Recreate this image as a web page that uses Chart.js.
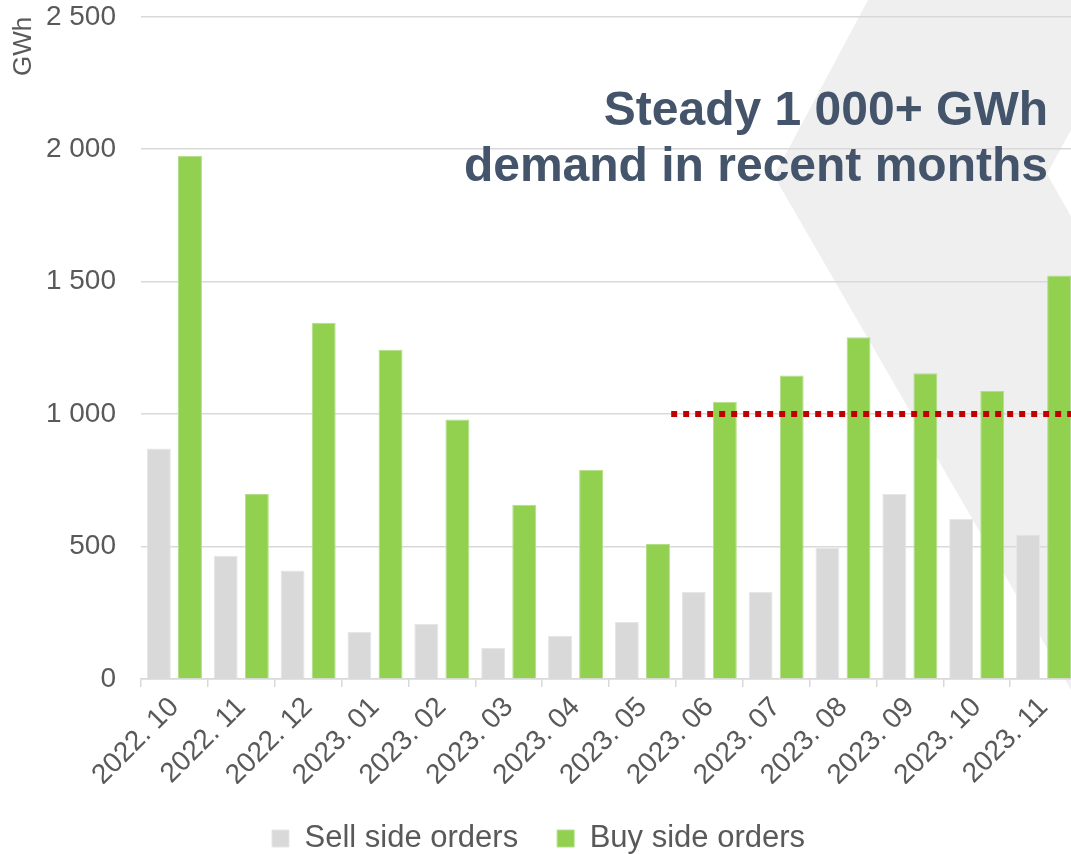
<!DOCTYPE html>
<html>
<head>
<meta charset="utf-8">
<script src="https://cdn.jsdelivr.net/npm/chart.js@4"></script>
<style>
  html, body { margin: 0; padding: 0; background: #fff; overflow: hidden; }
  #wrap { position: relative; width: 1077px; height: 854px; }
  #note {
    position: absolute; right: 29px; top: 81px;
    font-family: "Liberation Sans", Arial, sans-serif;
    font-weight: bold; font-size: 48px; line-height: 56px;
    color: #44546A; text-align: right; white-space: nowrap;
  }
</style>
</head>
<body>
<div id="wrap">
  <canvas id="myChart" width="1077" height="854"></canvas>
  <div id="note">Steady 1 000+ GWh<br>demand in recent months</div>
</div>
<script>
// Monthly order volumes, GWh
const months = ['2022. 10', '2022. 11', '2022. 12', '2023. 01', '2023. 02', '2023. 03', '2023. 04',
                '2023. 05', '2023. 06', '2023. 07', '2023. 08', '2023. 09', '2023. 10', '2023. 11'];
const sellOrders = [870, 465, 410, 178, 208, 117, 163, 215, 328, 329, 495, 698, 605, 546];
const buyOrders = [1975, 698, 1345, 1243, 980, 658, 790, 510, 1047, 1146, 1290, 1154, 1087, 1523];

// 1 000 GWh reference line, x in category index units
const refLineX = [7.43, 13.5];
const refLineY = [1000, 1000];

const yTicks = [0, 500, 1000, 1500, 2000, 2500];

function spaced(v) {
    return String(v).replace(/\B(?=(\d{3})+(?!\d))/g, ' ');
}

// light grey chevron stripe behind the plot
const chevron = {
    id: 'chevron',
    beforeDraw(chart) {
        const c = chart.ctx;
        c.save();
        c.fillStyle = '#efefef';
        c.beginPath();
        c.moveTo(868, 0);
        c.lineTo(1150, 0);
        c.lineTo(1071, 130);
        c.lineTo(1047, 174);
        c.lineTo(1077, 227);
        c.lineTo(1077, 700);
        c.lineTo(774, 176);
        c.closePath();
        c.fill();
        c.restore();
    }
};

const font = 'Liberation Sans, Arial';

const ctx = document.getElementById('myChart').getContext('2d');
const myChart = new Chart(ctx, {
    type: 'bar',
    data: {
        labels: months,
        datasets: [{
            label: 'Sell side orders',
            data: sellOrders,
            backgroundColor: '#d9d9d9',
            borderColor: '#e6e6e6',
            borderWidth: 1,
            barPercentage: 0.77,
            categoryPercentage: 0.93,
            order: 1
        }, {
            label: 'Buy side orders',
            data: buyOrders,
            backgroundColor: '#92d050',
            borderColor: '#b2de88',
            borderWidth: 1,
            barPercentage: 0.77,
            categoryPercentage: 0.93,
            order: 1
        }, {
            type: 'line',
            label: '1 000 GWh',
            parsing: false,
            data: refLineX.map((x, i) => ({ x: x, y: refLineY[i] })),
            borderColor: '#c00000',
            borderWidth: 6,
            borderDash: [6, 6],
            borderCapStyle: 'butt',
            pointRadius: 0,
            fill: false,
            order: 0
        }]
    },
    options: {
        responsive: false,
        animation: false,
        layout: { padding: { top: 0, left: 0, right: 0, bottom: -10 } },
        plugins: {
            tooltip: { enabled: false },
            legend: {
                position: 'bottom',
                labels: {
                    boxWidth: 17,
                    boxHeight: 17,
                    padding: 39,
                    color: '#595959',
                    font: { family: font, size: 31 },
                    filter: item => item.datasetIndex !== 2
                }
            }
        },
        scales: {
            x: {
                afterFit(scale) { scale.height = 105; },
                grid: {
                    offset: true,
                    drawOnChartArea: false,
                    drawTicks: true,
                    tickLength: 8,
                    color: '#d9d9d9',
                    lineWidth: 1.5
                },
                border: { color: '#d9d9d9', width: 1.5 },
                ticks: {
                    minRotation: 45,
                    maxRotation: 45,
                    padding: 4,
                    color: '#595959',
                    font: { family: font, size: 28 }
                }
            },
            y: {
                min: yTicks[0],
                max: yTicks[yTicks.length - 1],
                afterFit(scale) { scale.width = 141; },
                afterBuildTicks(scale) { scale.ticks = yTicks.map(v => ({ value: v })); },
                grid: {
                    color: '#d9d9d9',
                    lineWidth: 1.5,
                    drawTicks: true,
                    tickLength: 25,
                    tickColor: 'rgba(0,0,0,0)'
                },
                border: { display: false },
                ticks: {
                    padding: 0,
                    color: '#595959',
                    font: { family: font, size: 28 },
                    callback: v => spaced(v)
                },
                title: {
                    display: true,
                    text: 'GWh',
                    align: 'end',
                    color: '#595959',
                    padding: { top: 8, bottom: 0 },
                    font: { family: font, size: 26 }
                }
            }
        }
    },
    plugins: [chevron]
});
</script>
</body>
</html>
